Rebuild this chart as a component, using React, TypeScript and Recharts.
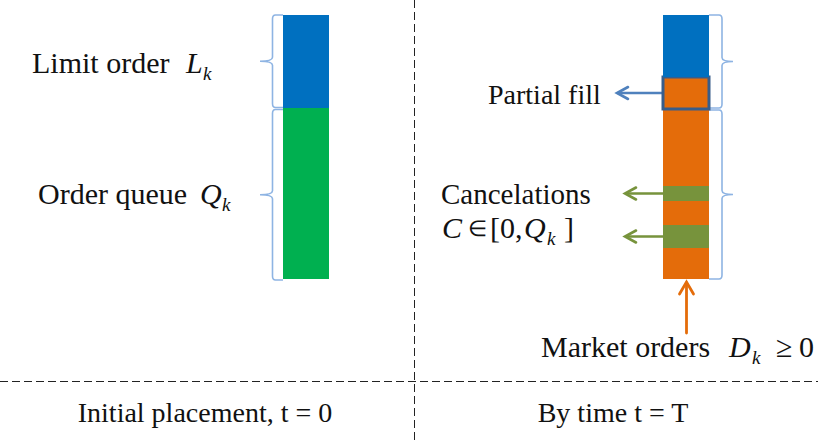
import React from 'react';
import { BarChart, Bar, XAxis, YAxis, ReferenceArea } from 'recharts';

// ---- data (vertical share units) ----
const panels = ['Initial placement, t = 0', 'By time t = T'];
const orderQueue = [171, 0];
const marketFill1 = [0, 31];
const cancel1 = [0, 23];
const marketFill2 = [0, 24];
const cancel2 = [0, 15];
const marketFill3 = [0, 77];
const partialFill = [0, 32];
const limitOrder = [93, 62];

const data = panels.map((panel, i) => ({
  panel,
  orderQueue: orderQueue[i],
  marketFill1: marketFill1[i],
  cancel1: cancel1[i],
  marketFill2: marketFill2[i],
  cancel2: cancel2[i],
  marketFill3: marketFill3[i],
  partialFill: partialFill[i],
  limitOrder: limitOrder[i],
}));

const total = orderQueue[0] + limitOrder[0];
const c1Lo = marketFill1[1];
const c1Hi = c1Lo + cancel1[1];
const c2Lo = c1Hi + marketFill2[1];
const c2Hi = c2Lo + cancel2[1];
const pLo = c2Hi + marketFill3[1];
const pHi = pLo + partialFill[1];

const BLUE = '#0070C0';
const GREEN = '#00B050';
const ORANGE = '#E46C0A';
const OLIVE = '#77933C';
const BRACE = '#8EB4E3';
const ARROW_BLUE = '#4F81BD';
const SERIF = '"Liberation Serif", "Times New Roman", serif';
const BAR = 46;

const barEdges = (props: any, i: number) => {
  const band = props.width / panels.length;
  const c = props.x + band * (i + 0.5);
  return [c - BAR / 2, c + BAR / 2];
};

const bracePath = (xe: number, xv: number, xt: number, yT: number, yB: number) => {
  const ym = (yT + yB) / 2;
  const r = 4;
  const h = xe > xv ? 3 : -3;
  return `M${xe},${yT} L${xv + h},${yT} Q${xv},${yT} ${xv},${yT + r} L${xv},${ym - r} Q${xv},${ym} ${xt},${ym} Q${xv},${ym} ${xv},${ym + r} L${xv},${yB - r} Q${xv},${yB} ${xv + h},${yB} L${xe},${yB}`;
};

const makeBrace = (side: 'left' | 'right', insetTop: number, insetBottom: number) => (props: any) => {
  const yT = props.y + insetTop;
  const yB = props.y + props.height - insetBottom;
  let xe: number, xv: number, xt: number;
  if (side === 'left') {
    xe = barEdges(props, 0)[0];
    xv = xe - 10.5;
    xt = xe - 23;
  } else {
    xe = barEdges(props, 1)[1];
    xv = xe + 13;
    xt = xe + 24;
  }
  return <path d={bracePath(xe, xv, xt, yT, yB)} fill="none" stroke={BRACE} strokeWidth={1.6} />;
};

const makeArrow = (color: string, len: number) => (props: any) => {
  const x0 = barEdges(props, 1)[0];
  const y = props.y + props.height / 2;
  const xt = x0 - len;
  return (
    <g stroke={color} strokeWidth={2.6} fill="none" strokeLinecap="round">
      <line x1={x0} y1={y} x2={xt + 1} y2={y} />
      <polyline points={`${xt + 11},${y - 6} ${xt},${y} ${xt + 11},${y + 6}`} />
    </g>
  );
};

const Sub = ({ x, y, children }: any) => (
  <text x={x} y={y} fontFamily={SERIF} fontStyle="italic" fontSize={19} fill="#111">
    {children}
  </text>
);

export default function App() {
  return (
    <div style={{ position: 'absolute', left: 0, top: 0, width: 818, height: 444, overflow: 'hidden', background: '#fff' }}>
      <BarChart
        width={876}
        height={444}
        data={data}
        margin={{ top: 15, right: 0, bottom: 165, left: 116 }}
        barSize={BAR}
      >
        <XAxis dataKey="panel" hide />
        <YAxis hide domain={[0, total]} />
        <Bar dataKey="orderQueue" stackId="s" fill={GREEN} isAnimationActive={false} />
        <Bar dataKey="marketFill1" stackId="s" fill={ORANGE} isAnimationActive={false} />
        <Bar dataKey="cancel1" stackId="s" fill={OLIVE} isAnimationActive={false} />
        <Bar dataKey="marketFill2" stackId="s" fill={ORANGE} isAnimationActive={false} />
        <Bar dataKey="cancel2" stackId="s" fill={OLIVE} isAnimationActive={false} />
        <Bar dataKey="marketFill3" stackId="s" fill={ORANGE} isAnimationActive={false} />
        <Bar dataKey="partialFill" stackId="s" fill={ORANGE} stroke="#385D8A" strokeWidth={3} isAnimationActive={false} />
        <Bar dataKey="limitOrder" stackId="s" fill={BLUE} isAnimationActive={false} />
        <ReferenceArea y1={orderQueue[0]} y2={total} ifOverflow="visible" shape={makeBrace('left', 0, 0.5)} />
        <ReferenceArea y1={0} y2={orderQueue[0]} ifOverflow="visible" shape={makeBrace('left', 1.5, -1)} />
        <ReferenceArea y1={pLo} y2={total} ifOverflow="visible" shape={makeBrace('right', 0, 1)} />
        <ReferenceArea y1={0} y2={pLo} ifOverflow="visible" shape={makeBrace('right', 1, 0)} />
        <ReferenceArea y1={pLo} y2={pHi} ifOverflow="visible" shape={makeArrow(ARROW_BLUE, 46)} />
        <ReferenceArea y1={c2Lo} y2={c2Hi} ifOverflow="visible" shape={makeArrow(OLIVE, 38)} />
        <ReferenceArea y1={c1Lo} y2={c1Hi} ifOverflow="visible" shape={makeArrow(OLIVE, 38)} />
      </BarChart>
      <svg width={818} height={444} style={{ position: 'absolute', left: 0, top: 0, pointerEvents: 'none' }}>
        <line x1={0} y1={381.5} x2={818} y2={381.5} stroke="#222" strokeWidth={1} strokeDasharray="8 4" />
        <line x1={414.5} y1={0} x2={414.5} y2={444} stroke="#222" strokeWidth={1} strokeDasharray="8 4" />

        <text x={32} y={73} fontFamily={SERIF} fontSize={30} fill="#111">Limit order</text>
        <text x={186} y={73} fontFamily={SERIF} fontStyle="italic" fontSize={30} fill="#111">L</text>
        <Sub x={203} y={80}>k</Sub>

        <text x={38} y={204} fontFamily={SERIF} fontSize={30} fill="#111">Order queue</text>
        <text x={200} y={204} fontFamily={SERIF} fontStyle="italic" fontSize={30} fill="#111">Q</text>
        <Sub x={222} y={211}>k</Sub>

        <text x={488} y={104} fontFamily={SERIF} fontSize={28} fill="#111">Partial fill</text>

        <text x={441} y={204} fontFamily={SERIF} fontSize={29} fill="#111">Cancelations</text>
        <text x={442} y={238} fontFamily={SERIF} fontStyle="italic" fontSize={30} fill="#111">C</text>
        <text x={468} y={236} fontFamily={SERIF} fontSize={22} fill="#111">∈</text>
        <text x={490} y={238} fontFamily={SERIF} fontSize={30} fill="#111">[0,</text>
        <text x={524} y={238} fontFamily={SERIF} fontStyle="italic" fontSize={30} fill="#111">Q</text>
        <Sub x={547} y={245}>k</Sub>
        <text x={564} y={238} fontFamily={SERIF} fontSize={30} fill="#111">]</text>

        <g stroke={ORANGE} strokeWidth={2.8} fill="none" strokeLinecap="round">
          <line x1={686.5} y1={333} x2={686.5} y2={283} />
          <polyline points="679.5,294 686.5,282 693.5,294" />
        </g>

        <text x={541} y={357} fontFamily={SERIF} fontSize={30} fill="#111">Market orders</text>
        <text x={729} y={357} fontFamily={SERIF} fontStyle="italic" fontSize={30} fill="#111">D</text>
        <Sub x={752} y={364}>k</Sub>
        <text x={776} y={357} fontFamily={SERIF} fontSize={30} fill="#111">≥</text>
        <text x={799} y={357} fontFamily={SERIF} fontSize={30} fill="#111">0</text>

        <text x={205} y={422} textAnchor="middle" fontFamily={SERIF} fontSize={28} fill="#111">{panels[0]}</text>
        <text x={613} y={422} textAnchor="middle" fontFamily={SERIF} fontSize={28} fill="#111">{panels[1]}</text>
      </svg>
    </div>
  );
}
